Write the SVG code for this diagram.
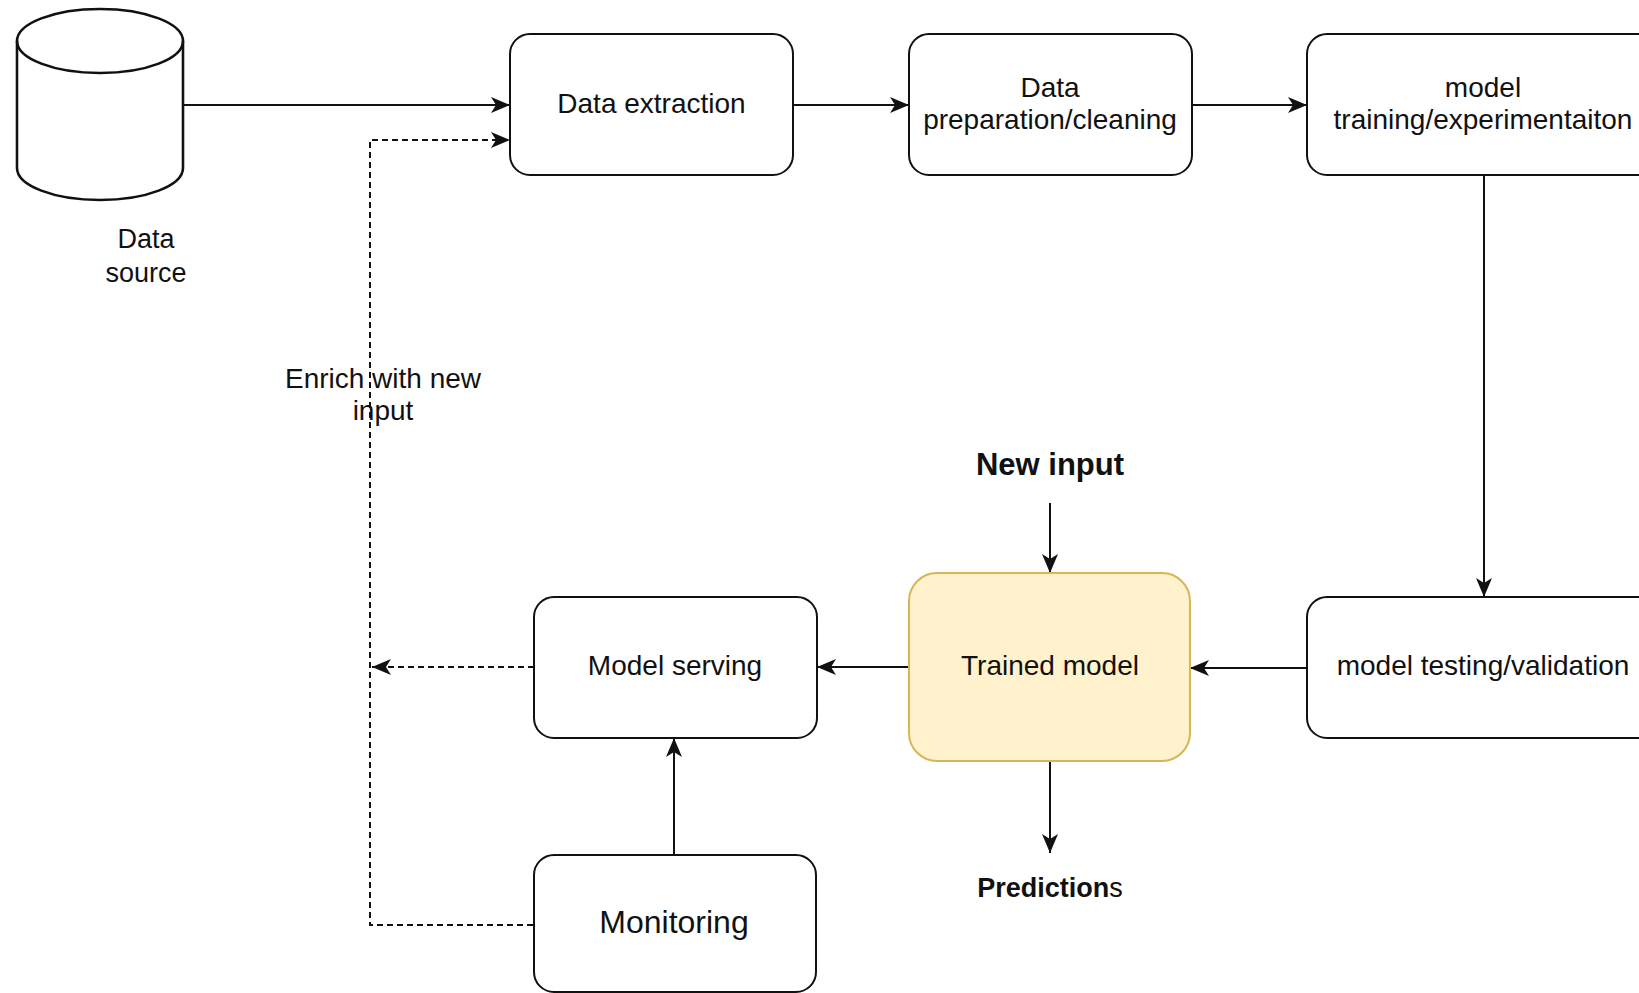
<svg xmlns="http://www.w3.org/2000/svg" width="1639" height="993" viewBox="0 0 1639 993">
<style>
.box{fill:#ffffff;stroke:#111;stroke-width:2}
.cyl{fill:#ffffff;stroke:#111;stroke-width:2.6}
.hl{fill:#fff2cc;stroke:#d6b656;stroke-width:2}
.t{font-family:"Liberation Sans",Arial,sans-serif;font-size:28px;fill:#111;text-anchor:middle}
.b{font-weight:bold}
.e{fill:none;stroke:#111;stroke-width:2}
.d{stroke-dasharray:6 4}
</style>
<defs>
<marker id="arr" markerUnits="userSpaceOnUse" viewBox="-21 -10 22 20" markerWidth="22" markerHeight="20" refX="0" refY="0" orient="auto">
<path d="M0,0 L-19,-8 L-14,0 L-19,8 Z" fill="#111"/>
</marker>
</defs>
<rect width="1639" height="993" fill="#ffffff"/>
<g id="connectors">
<path class="e" d="M183,105 H510" marker-end="url(#arr)"/>
<path class="e d" d="M533,925 H370 V140 H510" marker-end="url(#arr)"/>
<path class="e" d="M793,105 H909" marker-end="url(#arr)"/>
<path class="e" d="M1192,105 H1307" marker-end="url(#arr)"/>
<path class="e" d="M1484,175 V597" marker-end="url(#arr)"/>
<path class="e" d="M1307,668 H1190" marker-end="url(#arr)"/>
<path class="e" d="M909,667 H817" marker-end="url(#arr)"/>
<path class="e d" d="M534,667 H372" marker-end="url(#arr)"/>
<path class="e" d="M674,855 V738" marker-end="url(#arr)"/>
<path class="e" d="M1050,503 V573" marker-end="url(#arr)"/>
<path class="e" d="M1050,761 V853" marker-end="url(#arr)"/>
<text class="t" x="383" y="388">Enrich with new</text>
<text class="t" x="383" y="420">input</text>
</g>
<g id="data-source">
<path class="cyl" d="M17,41 A83,32 0 0 1 183,41 V168 A83,32 0 0 1 17,168 Z"/>
<path class="cyl" style="fill:none" d="M17,41 A83,32 0 0 0 183,41"/>
<text class="t" x="146" y="248" style="font-size:27px">Data</text>
<text class="t" x="146" y="282" style="font-size:27px">source</text>
</g>
<g id="data-extraction">
<rect class="box" x="510" y="34" width="283" height="141" rx="20"/>
<text class="t" x="651.5" y="113">Data extraction</text>
</g>
<g id="data-preparation">
<rect class="box" x="909" y="34" width="283" height="141" rx="20"/>
<text class="t" x="1050" y="97">Data</text>
<text class="t" x="1050" y="129">preparation/cleaning</text>
</g>
<g id="model-training">
<rect class="box" x="1307" y="34" width="353" height="141" rx="20"/>
<text class="t" x="1483" y="97">model</text>
<text class="t" x="1483" y="129">training/experimentaiton</text>
</g>
<g id="model-testing">
<rect class="box" x="1307" y="597" width="353" height="141" rx="20"/>
<text class="t" x="1483" y="675">model testing/validation</text>
</g>
<g id="trained-model">
<rect class="hl" x="909" y="573" width="281" height="188" rx="28"/>
<text class="t" x="1050" y="675">Trained model</text>
</g>
<g id="model-serving">
<rect class="box" x="534" y="597" width="283" height="141" rx="20"/>
<text class="t" x="675" y="675">Model serving</text>
</g>
<g id="monitoring">
<rect class="box" x="534" y="855" width="282" height="137" rx="20"/>
<text class="t" x="674" y="933" style="font-size:32px">Monitoring</text>
</g>
<g id="new-input">
<text class="t b" x="1050" y="475" style="font-size:31px">New input</text>
</g>
<g id="predictions">
<text class="t b" x="1050" y="897" style="font-size:27px">Prediction<tspan style="font-weight:normal">s</tspan></text>
</g>
</svg>
